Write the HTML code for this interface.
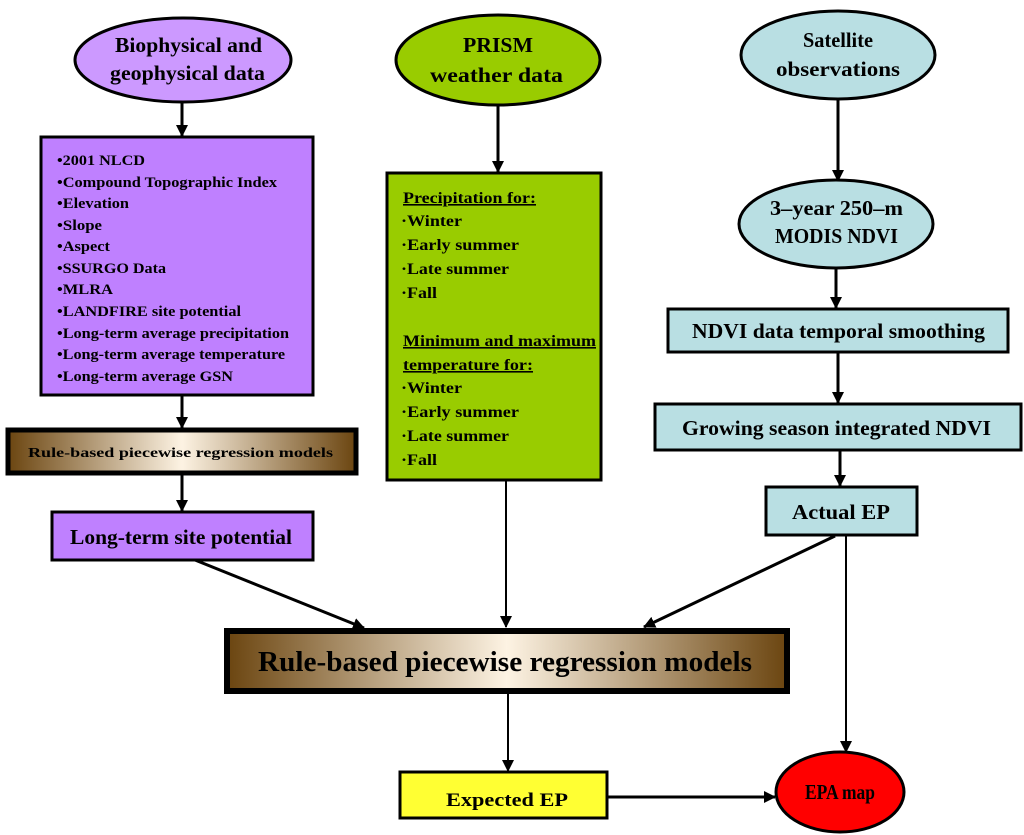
<!DOCTYPE html>
<html><head><meta charset="utf-8"><style>
html,body{margin:0;padding:0;background:#fff;}
svg{display:block;}
text{font-family:"Liberation Serif",serif;font-weight:bold;fill:#000;}
</style></head><body>
<svg width="1024" height="835" viewBox="0 0 1024 835" xmlns="http://www.w3.org/2000/svg">
<defs>
<linearGradient id="br" x1="0" x2="1" y1="0" y2="0">
<stop offset="0" stop-color="#6b4510"/><stop offset="0.5" stop-color="#fdf3e3"/><stop offset="1" stop-color="#6b4510"/>
</linearGradient>
<marker id="b" markerWidth="12" markerHeight="12" refX="11" refY="6" orient="auto" markerUnits="userSpaceOnUse">
<path d="M0,0 L12,6 L0,12 Z" fill="#000"/></marker>
</defs>
<g stroke="#000" stroke-width="3" fill="none">
<line x1="182" y1="102" x2="182" y2="136" marker-end="url(#b)"/>
<line x1="182" y1="396" x2="182" y2="428" marker-end="url(#b)"/>
<line x1="182" y1="474" x2="182" y2="511" marker-end="url(#b)"/>
<line x1="195" y1="560" x2="364" y2="628" marker-end="url(#b)"/>
<line x1="498" y1="106" x2="498" y2="172" marker-end="url(#b)"/>
<line x1="506" y1="481" x2="506" y2="627" stroke-width="2" marker-end="url(#b)"/>
<line x1="835" y1="536" x2="644" y2="627" marker-end="url(#b)"/>
<line x1="846" y1="536" x2="846" y2="752" stroke-width="2" marker-end="url(#b)"/>
<line x1="508" y1="693" x2="508" y2="771" stroke-width="2" marker-end="url(#b)"/>
<line x1="607" y1="797" x2="775" y2="797" marker-end="url(#b)"/>
<line x1="838" y1="100" x2="838" y2="181" marker-end="url(#b)"/>
<line x1="836" y1="268" x2="836" y2="308" marker-end="url(#b)"/>
<line x1="838" y1="353" x2="838" y2="403" marker-end="url(#b)"/>
<line x1="840" y1="451" x2="840" y2="486" marker-end="url(#b)"/>
</g>
<g stroke="#000" stroke-width="3">
<ellipse cx="183" cy="60" rx="108" ry="42" fill="#cc99ff"/>
<ellipse cx="498" cy="60" rx="102" ry="45" fill="#99cc00"/>
<ellipse cx="838" cy="55" rx="97" ry="44" fill="#b9dfe3"/>
<rect x="41" y="137" width="272" height="258" fill="#bf80ff"/>
<rect x="387" y="173" width="214" height="307" fill="#99cc00"/>
<ellipse cx="836" cy="224" rx="97" ry="44" fill="#b9dfe3"/>
<rect x="668" y="309" width="340" height="43" fill="#b9dfe3"/>
<rect x="655" y="404" width="366" height="46" fill="#b9dfe3"/>
<rect x="766" y="487" width="151" height="48" fill="#b9dfe3"/>
<rect x="8" y="430" width="348" height="43" fill="url(#br)" stroke-width="5"/>
<rect x="52" y="512" width="261" height="48" fill="#bf80ff"/>
<rect x="227" y="631" width="560" height="60" fill="url(#br)" stroke-width="6"/>
<rect x="400" y="772" width="207" height="46" fill="#ffff33"/>
<ellipse cx="840" cy="792" rx="64" ry="40" fill="#ff0000"/>
</g>
<g font-size="21">
<text x="115" y="52" textLength="147" lengthAdjust="spacingAndGlyphs">Biophysical and</text>
<text x="110" y="80" textLength="155" lengthAdjust="spacingAndGlyphs">geophysical data</text>
<text x="463" y="52" textLength="70" lengthAdjust="spacingAndGlyphs">PRISM</text>
<text x="430" y="82" textLength="133" lengthAdjust="spacingAndGlyphs">weather data</text>
<text x="803" y="47" textLength="70" lengthAdjust="spacingAndGlyphs">Satellite</text>
<text x="776" y="76" textLength="124" lengthAdjust="spacingAndGlyphs">observations</text>
<text x="770" y="215" textLength="133" lengthAdjust="spacingAndGlyphs">3–year 250–m</text>
<text x="775" y="243" textLength="123" lengthAdjust="spacingAndGlyphs">MODIS NDVI</text>
<text x="692" y="338" textLength="293" lengthAdjust="spacingAndGlyphs">NDVI data temporal smoothing</text>
<text x="682" y="435" textLength="309" lengthAdjust="spacingAndGlyphs">Growing season integrated NDVI</text>
<text x="792" y="519" textLength="98" lengthAdjust="spacingAndGlyphs">Actual EP</text>
<text x="70" y="544" textLength="222" lengthAdjust="spacingAndGlyphs">Long-term site potential</text>
</g>
<text x="28" y="457" font-size="14" textLength="305" lengthAdjust="spacingAndGlyphs">Rule-based piecewise regression models</text>
<text x="258" y="671" font-size="28" textLength="494" lengthAdjust="spacingAndGlyphs">Rule-based piecewise regression models</text>
<text x="446" y="806" font-size="19" textLength="122" lengthAdjust="spacingAndGlyphs">Expected EP</text>
<text x="805" y="799" font-size="21" textLength="70" lengthAdjust="spacingAndGlyphs">EPA map</text>
<g font-size="15">
<text x="57" y="165" textLength="88" lengthAdjust="spacingAndGlyphs">•2001 NLCD</text>
<text x="57" y="187" textLength="220" lengthAdjust="spacingAndGlyphs">•Compound Topographic Index</text>
<text x="57" y="208" textLength="72" lengthAdjust="spacingAndGlyphs">•Elevation</text>
<text x="57" y="230" textLength="45" lengthAdjust="spacingAndGlyphs">•Slope</text>
<text x="57" y="251" textLength="53" lengthAdjust="spacingAndGlyphs">•Aspect</text>
<text x="57" y="273" textLength="109" lengthAdjust="spacingAndGlyphs">•SSURGO Data</text>
<text x="57" y="294" textLength="56" lengthAdjust="spacingAndGlyphs">•MLRA</text>
<text x="57" y="316" textLength="184" lengthAdjust="spacingAndGlyphs">•LANDFIRE site potential</text>
<text x="57" y="338" textLength="232" lengthAdjust="spacingAndGlyphs">•Long-term average precipitation</text>
<text x="57" y="359" textLength="228" lengthAdjust="spacingAndGlyphs">•Long-term average temperature</text>
<text x="57" y="381" textLength="176" lengthAdjust="spacingAndGlyphs">•Long-term average GSN</text>
</g>
<g font-size="16">
<text x="403" y="203" text-decoration="underline" textLength="133" lengthAdjust="spacingAndGlyphs">Precipitation for:</text>
<text x="401" y="226" textLength="61" lengthAdjust="spacingAndGlyphs">·Winter</text>
<text x="401" y="250" textLength="118" lengthAdjust="spacingAndGlyphs">·Early summer</text>
<text x="401" y="274" textLength="108" lengthAdjust="spacingAndGlyphs">·Late summer</text>
<text x="401" y="298" textLength="36" lengthAdjust="spacingAndGlyphs">·Fall</text>
<text x="403" y="346" text-decoration="underline" textLength="193" lengthAdjust="spacingAndGlyphs">Minimum and maximum</text>
<text x="403" y="370" text-decoration="underline" textLength="130" lengthAdjust="spacingAndGlyphs">temperature for:</text>
<text x="401" y="393" textLength="61" lengthAdjust="spacingAndGlyphs">·Winter</text>
<text x="401" y="417" textLength="118" lengthAdjust="spacingAndGlyphs">·Early summer</text>
<text x="401" y="441" textLength="108" lengthAdjust="spacingAndGlyphs">·Late summer</text>
<text x="401" y="465" textLength="36" lengthAdjust="spacingAndGlyphs">·Fall</text>
</g>
</svg>
</body></html>
